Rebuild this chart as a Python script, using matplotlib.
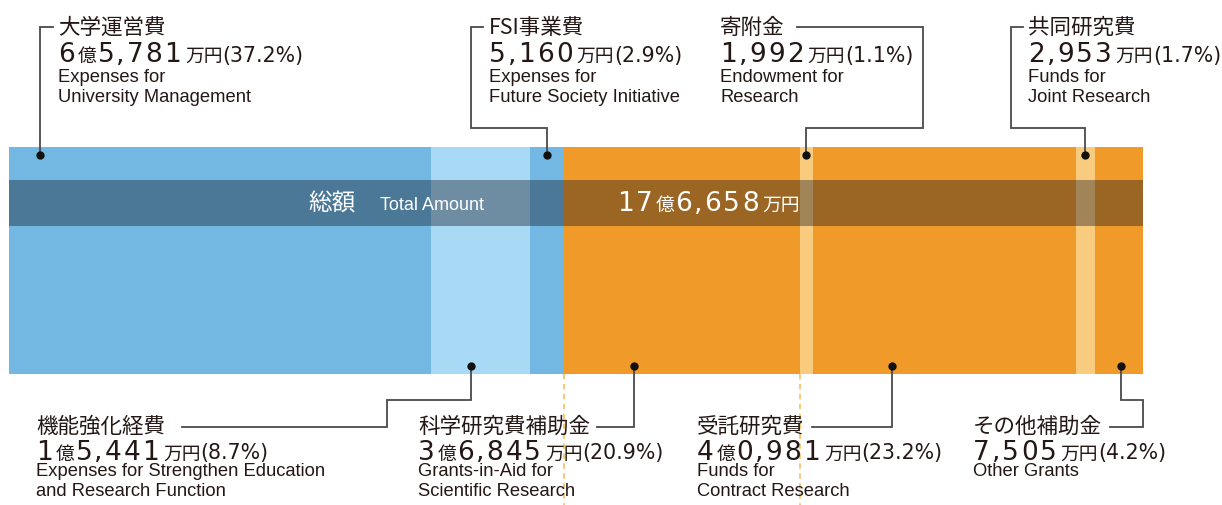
import matplotlib
matplotlib.use('Agg')
import matplotlib.pyplot as plt

# 収入内訳 (万円)
names = ['大学運営費', '機能強化経費', 'FSI事業費', '科学研究費補助金',
         '寄附金', '受託研究費', '共同研究費', 'その他補助金']
values = [65781, 15441, 5160, 36845, 1992, 40981, 2953, 7505]
pcts = [37.2, 8.7, 2.9, 20.9, 1.1, 23.2, 1.7, 4.2]
english = [['Expenses for', 'University Management'],
           ['Expenses for Strengthen Education', 'and Research Function'],
           ['Expenses for', 'Future Society Initiative'],
           ['Grants-in-Aid for', 'Scientific Research'],
           ['Endowment for', 'Research'],
           ['Funds for', 'Contract Research'],
           ['Funds for', 'Joint Research'],
           ['Other Grants']]
total = 176658
total_label = ['総額', 'Total Amount']

BLUE, LBLUE, ORANGE, LORANGE = '#72b8e3', '#a8daf5', '#f09a2a', '#f9cb7e'
seg_colors = [BLUE, LBLUE, BLUE, ORANGE, LORANGE, ORANGE, LORANGE, ORANGE]
TXT = '#231815'
LINE = '#4a4a4a'
JP = ['Noto Sans CJK JP', 'DejaVu Sans']
NUM = ['DejaVu Sans']
EN = ['Liberation Sans', 'DejaVu Sans']

W, H = 1222, 505
bar_l, bar_r, bar_t, bar_b = 9, 1143, 147, 374

fig = plt.figure(figsize=(W / 100, H / 100), dpi=100)
ax = fig.add_axes([bar_l / W, 1 - bar_b / H, (bar_r - bar_l) / W, (bar_b - bar_t) / H])
lefts = [sum(values[:i]) for i in range(len(values))]
ax.barh(0.5, values, left=lefts, height=1, color=seg_colors, linewidth=0)
ax.set_xlim(0, sum(values))
ax.set_ylim(0, 1)
ax.axis('off')
# 総額の帯
band_top, band_bot = 180, 226
ax.axhspan((bar_b - band_bot) / (bar_b - bar_t), (bar_b - band_top) / (bar_b - bar_t),
           color='#0b0b18', alpha=0.37, lw=0)

# overlay in pixel units
ov = fig.add_axes([0, 0, 1, 1], zorder=5)
ov.set_xlim(0, W)
ov.set_ylim(H, 0)
ov.axis('off')
ov.patch.set_alpha(0)

renderer = fig.canvas.get_renderer()


def to_px(v):
    return bar_l + v / sum(values) * (bar_r - bar_l)


def put_row(x, y, pieces, color=TXT):
    for s, size, fam, gap, track in pieces:
        chunks = list(s) if track else [s]
        for ch in chunks:
            t = ov.text(x, y, ch, fontsize=size, family=fam, color=color,
                        va='baseline', ha='left')
            x += t.get_window_extent(renderer=renderer).width + track
        x += gap
    return x


def amount_pieces(v, big=19, small=13.5, track=2.0):
    oku, man = divmod(v, 10000)
    p = []
    if oku:
        p.append((str(oku), big, NUM, 1, track))
        p.append(('億', small, JP, 1, 0))
        s = f'{man:04d}'
        p.append((s[0] + ',' + s[1:], big, NUM, 2, track))
    else:
        p.append((f'{man:,}', big, NUM, 2, track))
    p.append(('万円', small, JP, 0, 0))
    return p


# dashed guides under the 科学研究費 segment
for i in (3, 4):
    xx = to_px(lefts[i])
    ov.plot([xx, xx], [bar_b, H], color='#f8c46e', lw=1.3, ls=(0, (3, 2.5)))

# where the dot sits inside each segment (fraction)
dot_frac = [0.073, 0.40, 0.5, 0.30, 0.5, 0.30, 0.5, 0.54]
is_top = [True, False, True, False, True, False, True, False]
label_x = [58, 36, 489, 418, 720, 697, 1028, 973]
routes = [[('v', 27), ('h', 53)],
          [('v', 400), ('h', 387), ('v', 426.5), ('h', 182)],
          [('v', 128), ('h', 471), ('v', 27), ('h', 483)],
          [('v', 426.5), ('h', 597)],
          [('v', 128), ('h', 923), ('v', 27), ('h', 797)],
          [('v', 426.5), ('h', 812)],
          [('v', 128), ('h', 1011), ('v', 27), ('h', 1023)],
          [('v', 400), ('h', 1143), ('v', 426.5), ('h', 1110)]]

for i, name in enumerate(names):
    dx = to_px(lefts[i] + dot_frac[i] * values[i])
    dy = 155 if is_top[i] else 366
    xs, ys = [dx], [dy]
    for kind, c in routes[i]:
        if kind == 'v':
            xs.append(xs[-1]); ys.append(c)
        else:
            xs.append(c); ys.append(ys[-1])
    ov.plot(xs, ys, color=LINE, lw=1.3, solid_joinstyle='miter')
    ov.plot(dx, dy, 'o', ms=6, color='#111111', mec='none')

    x0 = label_x[i]
    if is_top[i]:
        yt, ya, ye = 33.5, 62, 82
    else:
        yt, ya, ye = 432.5, 459.5, 476.5
    ov.text(x0, yt, name, fontsize=15.5, family=JP, color=TXT, va='baseline')
    put_row(x0, ya, amount_pieces(values[i]) + [(f'({pcts[i]}%)', 14.8, NUM, 0, 0)])
    for k, line in enumerate(english[i]):
        ov.text(x0, ye + 20 * k, line, fontsize=13.2, family=EN, color=TXT, va='baseline')

# 総額
ov.text(308, 211, total_label[0], fontsize=17, family=JP, color='white', va='baseline')
ov.text(380, 210, total_label[1], fontsize=13, family=EN, color='white', va='baseline')
put_row(617, 211, amount_pieces(total), color='white')

fig.savefig('out.png', dpi=100)
